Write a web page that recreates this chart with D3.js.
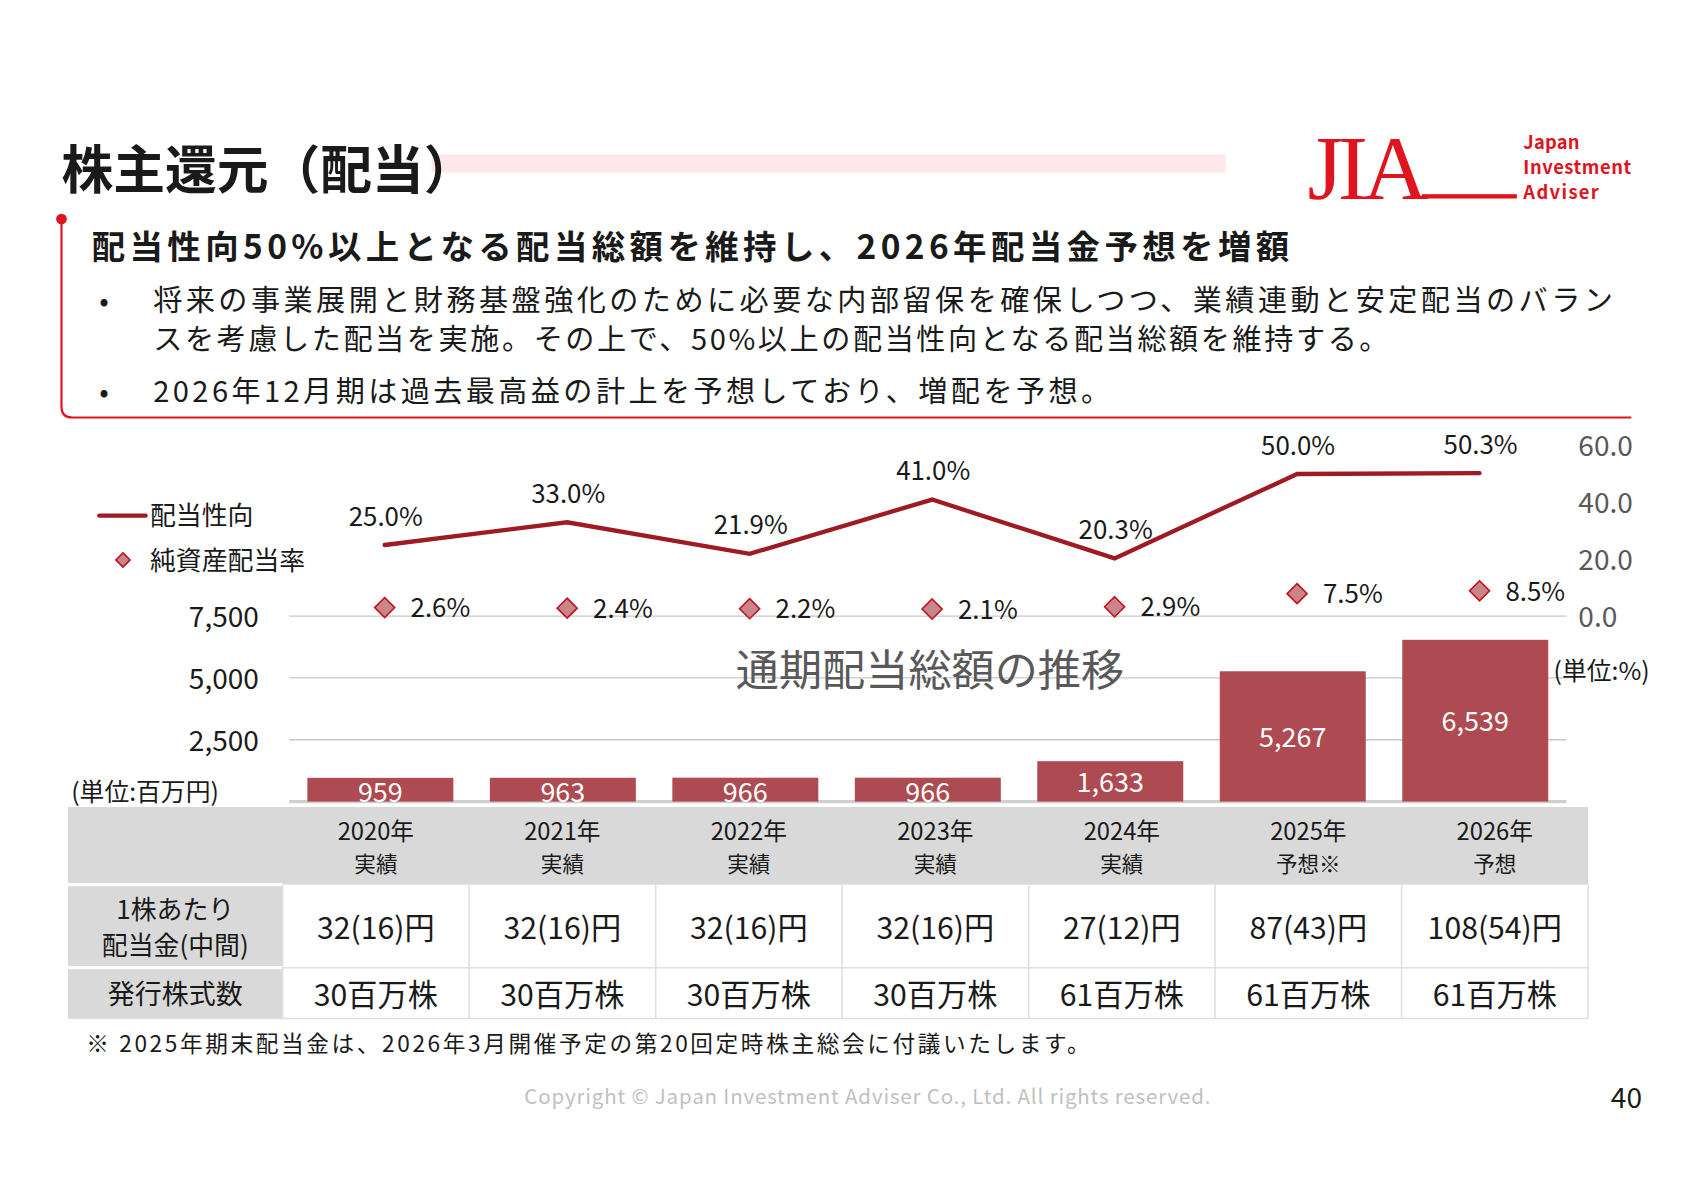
<!DOCTYPE html>
<html><head><meta charset="utf-8">
<script src="https://cdn.jsdelivr.net/npm/d3@7"></script>
<style>body{margin:0;background:#fff}svg{display:block;font-family:"Noto Sans CJK JP","Noto Sans",sans-serif}</style>
</head><body><div id="chart"></div>
<script>
const years = ['2020年', '2021年', '2022年', '2023年', '2024年', '2025年', '2026年'];
const kinds = ['実績', '実績', '実績', '実績', '実績', '予想※', '予想'];
const totals = [959, 963, 966, 966, 1633, 5267, 6539];
const payout = [25.0, 33.0, 21.9, 41.0, 20.3, 50.0, 50.3];
const doe = [2.6, 2.4, 2.2, 2.1, 2.9, 7.5, 8.5];
const dps = ['32(16)円', '32(16)円', '32(16)円', '32(16)円', '27(12)円', '87(43)円', '108(54)円'];
const shares = ['30百万株', '30百万株', '30百万株', '30百万株', '61百万株', '61百万株', '61百万株'];
const leftTicks = [2500, 5000, 7500];
const rightTicks = [0, 20, 40, 60];

const svg = d3.select('#chart').append('svg')
  .attr('width', 1683).attr('height', 1190)
  .attr('viewBox', '0 0 1560 1103');

const red = '#e0141e';

// header
svg.append('rect').attr('x', 400).attr('y', 143).attr('width', 736).attr('height', 17).attr('fill', '#fde9eb');
svg.append('text').attr('x', 57).attr('y', 175).style('font-size', '48px').style('font-weight', 'bold')
  .attr('fill', '#1a1a1a').text('株主還元（配当）');

// logo
svg.append('text').attr('x', 1212).attr('y', 184).style('font-size', '84px')
  .style('font-family', '"Liberation Serif",serif').attr('fill', red).attr('textLength', 112).text('JIA');
svg.append('rect').attr('x', 1318).attr('y', 180).attr('width', 88).attr('height', 4).attr('fill', red);
['Japan', 'Investment', 'Adviser'].forEach((t, i) => {
  svg.append('text').attr('x', 1412).attr('y', 138 + i * 23).style('font-size', '17px').style('font-weight', 'bold')
    .attr('fill', red).attr('textLength', [52, 100, 70][i]).text(t);
});

// red frame
svg.append('path').attr('d', 'M57,203 V377 Q57,387 67,387 H1512').attr('fill', 'none').attr('stroke', red).attr('stroke-width', 2);
svg.append('circle').attr('cx', 57).attr('cy', 203).attr('r', 5).attr('fill', red);

svg.append('text').attr('x', 85).attr('y', 240).style('font-size', '31px').style('font-weight', 'bold')
  .attr('fill', '#1a1a1a').attr('textLength', 1110).text('配当性向50%以上となる配当総額を維持し、2026年配当金予想を増額');
const bullets = [
  [288, '将来の事業展開と財務基盤強化のために必要な内部留保を確保しつつ、業績連動と安定配当のバラン', 1353],
  [324, 'スを考慮した配当を実施。その上で、50%以上の配当性向となる配当総額を維持する。', 1145],
  [373, '2026年12月期は過去最高益の計上を予想しており、増配を予想。', 887]
];
bullets.forEach(([y, t, w], i) => {
  if (i !== 1) svg.append('text').attr('x', 92).attr('y', y).style('font-size', '26px').attr('fill', '#1a1a1a').text('•');
  svg.append('text').attr('x', 142).attr('y', y).style('font-size', '27px').attr('fill', '#1a1a1a')
    .attr('textLength', w).text(t);
});

// chart scales
const x = d3.scaleBand().domain(years).range([268, 1452]).paddingInner(0.2).paddingOuter(0.1);
const yL = d3.scaleLinear().domain([0, 7500]).range([743, 571]);
const yR = d3.scaleLinear().domain([0, 60]).range([571, 413]);
const cx = d => x(d) + x.bandwidth() / 2;

// gridlines + axes
svg.append('g').selectAll('line').data([0, ...leftTicks]).join('line')
  .attr('x1', 268).attr('x2', 1452).attr('y1', d => yL(d)).attr('y2', d => yL(d))
  .attr('stroke', d => d === 0 ? '#d0d0d0' : '#c8c8c8').attr('stroke-width', d => d === 0 ? 3 : 1.2);
svg.append('g').selectAll('text').data(leftTicks).join('text')
  .attr('x', 240).attr('y', d => yL(d) + 10).attr('text-anchor', 'end')
  .style('font-size', '26px').attr('fill', '#1a1a1a').text(d3.format(','));
svg.append('g').selectAll('text').data(rightTicks).join('text')
  .attr('x', 1463).attr('y', d => yR(d) + 10)
  .style('font-size', '26px').attr('fill', '#595959').text(d => d.toFixed(1));

svg.append('text').attr('x', 862).attr('y', 636).attr('text-anchor', 'middle').style('font-size', '40px')
  .attr('fill', '#595959').text('通期配当総額の推移');
svg.append('text').attr('x', 66).attr('y', 742).style('font-size', '23px').attr('fill', '#1a1a1a').text('(単位:百万円)');
svg.append('text').attr('x', 1440).attr('y', 630).style('font-size', '23px').attr('fill', '#1a1a1a').text('(単位:%)');

// bars
const bars = years.map((y, i) => ({ y, v: totals[i] }));
svg.append('g').selectAll('rect').data(bars).join('rect')
  .attr('x', d => x(d.y)).attr('width', x.bandwidth())
  .attr('y', d => yL(d.v)).attr('height', d => yL(0) - yL(d.v)).attr('fill', '#ad4a52');
svg.append('g').selectAll('text').data(bars).join('text')
  .attr('x', d => cx(d.y)).attr('y', d => d.v < 1000 ? 743 : (yL(d.v) + yL(0)) / 2 + 10)
  .attr('text-anchor', 'middle').style('font-size', '25px').attr('fill', '#fff').text(d => d3.format(',')(d.v));

// payout line
const pts = years.map((y, i) => ({ y, v: payout[i] }));
svg.append('path').datum(pts)
  .attr('d', d3.line().x(d => cx(d.y) + 4).y(d => yR(d.v)))
  .attr('fill', 'none').attr('stroke', '#9e1b24').attr('stroke-width', 4).attr('stroke-linecap', 'round');
svg.append('g').selectAll('text').data(pts).join('text')
  .attr('x', d => cx(d.y) + 5).attr('y', d => yR(d.v) - 18).attr('text-anchor', 'middle')
  .style('font-size', '24px').attr('fill', '#1a1a1a').text(d => d.v.toFixed(1) + '%');

// DOE diamonds
const dm = years.map((y, i) => ({ y, v: doe[i] }));
const diamond = d3.symbol().type(d3.symbolDiamond2).size(220);
svg.append('g').selectAll('path').data(dm).join('path')
  .attr('transform', d => `translate(${cx(d.y) + 4},${yR(d.v) - 1})`)
  .attr('d', diamond).attr('fill', '#c9868a').attr('stroke', '#c0141e').attr('stroke-width', 1.5);
svg.append('g').selectAll('text').data(dm).join('text')
  .attr('x', d => cx(d.y) + 28).attr('y', d => yR(d.v) + 8)
  .style('font-size', '24px').attr('fill', '#1a1a1a').text(d => d.v.toFixed(1) + '%');

// legend
svg.append('line').attr('x1', 92).attr('x2', 135).attr('y1', 478).attr('y2', 478).attr('stroke', '#9e1b24').attr('stroke-width', 4).attr('stroke-linecap', 'round');
svg.append('text').attr('x', 139).attr('y', 487).style('font-size', '24px').attr('fill', '#1a1a1a').text('配当性向');
svg.append('path').attr('transform', 'translate(114,519)').attr('d', d3.symbol().type(d3.symbolDiamond2).size(110))
  .attr('fill', '#c9868a').attr('stroke', '#c0141e').attr('stroke-width', 1.5);
svg.append('text').attr('x', 139).attr('y', 528).style('font-size', '24px').attr('fill', '#1a1a1a').text('純資産配当率');

// table
const tx0 = 63, tx1 = 262, tx2 = 1472;
const colW = (tx2 - tx1) / years.length;
svg.append('rect').attr('x', tx0).attr('y', 748).attr('width', tx2 - tx0).attr('height', 72).attr('fill', '#d9d9d9');
svg.append('rect').attr('x', tx0).attr('y', 820).attr('width', tx1 - tx0).attr('height', 124).attr('fill', '#d9d9d9');
const grid = svg.append('g').attr('stroke', '#e0e0e0').attr('stroke-width', 1.5);
[820, 897].forEach(y => grid.append('line').attr('x1', tx0).attr('x2', tx1).attr('y1', y).attr('y2', y).attr('stroke', '#fff').attr('stroke-width', 3));
d3.range(years.length + 1).forEach(i => grid.append('line').attr('x1', tx1 + i * colW).attr('x2', tx1 + i * colW).attr('y1', 820).attr('y2', 944));
grid.append('line').attr('x1', tx0).attr('x2', tx2).attr('y1', 944).attr('y2', 944);
grid.append('line').attr('x1', tx1).attr('x2', tx2).attr('y1', 897).attr('y2', 897);

years.forEach((y, i) => {
  const c = tx1 + colW * (i + 0.5);
  svg.append('text').attr('x', c).attr('y', 779).attr('text-anchor', 'middle').style('font-size', '22px').attr('fill', '#1a1a1a').text(y);
  svg.append('text').attr('x', c).attr('y', 808).attr('text-anchor', 'middle').style('font-size', '20px').attr('fill', '#1a1a1a').text(kinds[i]);
  svg.append('text').attr('x', c).attr('y', 870).attr('text-anchor', 'middle').style('font-size', '28px').attr('fill', '#1a1a1a').text(dps[i]);
  svg.append('text').attr('x', c).attr('y', 932).attr('text-anchor', 'middle').style('font-size', '28px').attr('fill', '#1a1a1a').text(shares[i]);
});
const lc = (tx0 + tx1) / 2;
svg.append('text').attr('x', lc).attr('y', 852).attr('text-anchor', 'middle').style('font-size', '24px').attr('fill', '#1a1a1a').text('1株あたり');
svg.append('text').attr('x', lc).attr('y', 885).attr('text-anchor', 'middle').style('font-size', '24px').attr('fill', '#1a1a1a').text('配当金(中間)');
svg.append('text').attr('x', lc).attr('y', 931).attr('text-anchor', 'middle').style('font-size', '25px').attr('fill', '#1a1a1a').text('発行株式数');

svg.append('text').attr('x', 80).attr('y', 975).style('font-size', '21px').attr('fill', '#1a1a1a')
  .attr('textLength', 930).text('※  2025年期末配当金は、2026年3月開催予定の第20回定時株主総会に付議いたします。');
svg.append('text').attr('x', 804).attr('y', 1023).attr('text-anchor', 'middle').style('font-size', '19px').attr('fill', '#bfbfbf')
  .attr('textLength', 636).text('Copyright © Japan Investment Adviser Co., Ltd. All rights reserved.');
svg.append('text').attr('x', 1522).attr('y', 1027).attr('text-anchor', 'end').style('font-size', '26px').attr('fill', '#1a1a1a').text('40');
</script></body></html>
